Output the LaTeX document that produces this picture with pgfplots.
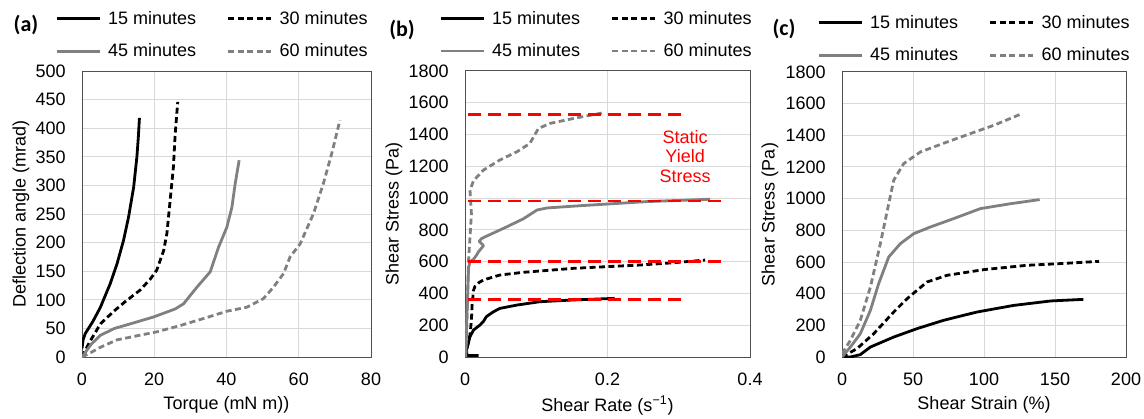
\documentclass[border=0pt]{standalone}
\usepackage{fontspec}
\setmainfont{Liberation Sans}
\newfontfamily\calibri{Carlito}
\usepackage{pgfplots}
\pgfplotsset{compat=1.18}

\definecolor{midgray}{RGB}{128,128,128}
\definecolor{gridgray}{RGB}{217,217,217}
\definecolor{framegray}{RGB}{80,80,80}
\newcommand{\txt}{\fontsize{13.5}{14.6}\selectfont}

\pgfplotsset{
  panel/.style={
    scale only axis,
    axis line style={framegray, line width=0.75pt},
    major tick length=0pt,
    grid=major, grid style={gridgray, line width=0.75pt},
    tick label style={font=\txt},
    /pgf/number format/assume math mode=true,
    /pgf/number format/1000 sep={},
    yticklabel style={inner xsep=0pt, xshift=-12pt},
    xticklabel style={inner ysep=0pt, yshift=-12pt},
    label style={font=\txt},
    legend columns=2,
    legend cell align=left,
    legend image code/.code={\draw[##1] (0pt,0pt) -- (32.25pt,0pt);},
    legend style={draw=none, fill=none, inner sep=0pt, font=\txt,
      row sep=13pt, nodes={inner sep=0pt},
      /tikz/every odd column/.append style={column sep=5.25pt},
      /tikz/every even column/.append style={column sep=23pt}},
  },
  s15/.style={black, line width=2.1pt, line join=round},
  s30/.style={black, line width=2.1pt, line join=round, dash pattern=on 4.5pt off 2.6pt},
  s45/.style={midgray, line width=2.1pt, line join=round},
  s60/.style={midgray, line width=2.1pt, line join=round, dash pattern=on 4.5pt off 2.6pt},
  syield/.style={red, line width=2.2pt, dash pattern=on 9.75pt off 5.25pt},
}

\begin{document}
\begin{tikzpicture}
\useasboundingbox (0,0) rectangle (858pt,313.5pt);

% ---------- (a) torque vs deflection
\begin{axis}[panel,
  at={(61.5pt,45.75pt)}, anchor=south west,
  width=216.75pt, height=214.5pt,
  xmin=0, xmax=80, ymin=0, ymax=500,
  xtick={0,20,...,80}, ytick={0,50,...,500},
  xlabel={Torque (mN m))}, ylabel={Deflection angle (mrad)},
  xlabel style={at={(axis description cs:0.5,-0.168)}, anchor=center},
  ylabel style={at={(axis description cs:-0.211,0.5)}, anchor=center},
  legend style={at={(axis description cs:-0.093,1.21)}, anchor=north west},
]
\addplot[s15] coordinates {(0,15) (0.3,30) (0.9,41) (3,62) (5.1,87) (7.8,128)
  (9.7,163) (11.5,204) (12.9,245) (14.3,297) (15.2,350) (15.6,385) (15.9,418)};
\addlegendentry{15 minutes}
\addplot[s30] coordinates {(0,0) (2,25) (5.1,58) (8.8,80) (12,97) (16.1,117)
  (19,137) (20.7,152) (22.6,186) (23.5,216) (24.4,274) (25.3,332) (25.8,390) (26.5,446)};
\addlegendentry{30 minutes}
\addplot[s45] coordinates {(0,0) (2.5,22) (5.1,38) (9,50) (13.4,58) (19.8,70)
  (25.8,84) (28.1,93) (31.8,122) (35.5,149) (37.8,192) (40.1,227) (41.5,262)
  (42.4,303) (43.5,344)};
\addlegendentry{45 minutes}
\addplot[s60] coordinates {(0,0) (2.5,8) (5.1,17) (9.7,30) (20.7,44) (27.2,55)
  (34,68) (40.1,80) (45.6,87) (50.2,102) (53,122) (55.8,146) (57.6,175)
  (60.4,198) (64.1,251) (66.8,303) (69.1,355) (71.4,414)};
\addlegendentry{60 minutes}
\end{axis}

% ---------- (b) shear rate vs shear stress
\begin{axis}[panel,
  at={(348.75pt,45.75pt)}, anchor=south west,
  width=213.75pt, height=214.5pt,
  xmin=0, xmax=0.4, ymin=0, ymax=1800,
  xtick={0,0.2,0.4}, ytick={0,200,...,1800},
  xlabel={Shear Rate (s\textsuperscript{−1})}, ylabel={Shear Stress (Pa)},
  xlabel style={at={(axis description cs:0.5,-0.168)}, anchor=center},
  ylabel style={at={(axis description cs:-0.249,0.5)}, anchor=center},
  legend style={at={(axis description cs:-0.091,1.21)}, anchor=north west},
]
\addplot[s15] coordinates {(0.019,10) (0.003,10) (0.002,40) (0.007,128) (0.012,170)
  (0.021,201) (0.026,225) (0.030,254) (0.040,285) (0.049,306) (0.073,327)
  (0.105,348) (0.152,359) (0.21,369)};
\addlegendentry{15 minutes}
\addplot[s30] coordinates {(0.001,0) (0.004,80) (0.007,140) (0.009,230) (0.010,330)
  (0.012,420) (0.014,445) (0.02,470) (0.026,485) (0.049,516) (0.082,533)
  (0.152,558) (0.246,579) (0.292,593) (0.337,610)};
\addlegendentry{30 minutes}
\addplot[s45] coordinates {(0.001,0) (0.003,300) (0.005,560) (0.007,600) (0.012,615)
  (0.016,640) (0.019,663) (0.026,700) (0.020,728) (0.023,745) (0.030,760)
  (0.058,818) (0.082,870) (0.101,925) (0.115,938) (0.161,952) (0.255,978) (0.344,993)};
\addlegendentry{45 minutes}
\addplot[s60] coordinates {(0.001,0) (0.003,300) (0.005,610) (0.009,900) (0.007,1050)
  (0.012,1110) (0.026,1177) (0.049,1240) (0.073,1292) (0.091,1344) (0.103,1438)
  (0.119,1470) (0.152,1501) (0.194,1537)};
\addlegendentry{60 minutes}
\addplot[syield, forget plot] coordinates {(0.004,1527) (0.311,1527)};
\addplot[syield, forget plot] coordinates {(0.004,982) (0.362,982)};
\addplot[syield, forget plot] coordinates {(0.004,600) (0.362,600)};
\addplot[syield, forget plot] coordinates {(0.004,359) (0.311,359)};
\node[red, font=\txt, align=center, anchor=center] at (axis cs:0.309,1263)
  {Static\\Yield\\Stress};
\end{axis}

% ---------- (c) shear strain vs shear stress
\begin{axis}[panel,
  at={(631.5pt,45.75pt)}, anchor=south west,
  width=213pt, height=213.75pt,
  xmin=0, xmax=200, ymin=0, ymax=1800,
  xtick={0,50,...,200}, ytick={0,200,...,1800},
  xlabel={Shear Strain (\%)}, ylabel={Shear Stress (Pa)},
  xlabel style={at={(axis description cs:0.5,-0.168)}, anchor=center},
  ylabel style={at={(axis description cs:-0.254,0.5)}, anchor=center},
  legend style={at={(axis description cs:-0.088,1.20)}, anchor=north west},
]
\addplot[s15] coordinates {(0,0) (5.9,0) (12.9,15) (20,63) (36.4,126) (52.8,179)
  (71.6,232) (95,284) (121,326) (147,354) (170,364)};
\addlegendentry{15 minutes}
\addplot[s30] coordinates {(0,0) (10.6,53) (22.3,147) (36.4,284) (45.8,368)
  (52.8,421) (59.9,474) (74,516) (100,552) (130,579) (154,590) (181,604)};
\addlegendentry{30 minutes}
\addplot[s45] coordinates {(0,0) (5.9,63) (12.9,147) (20,295) (25.8,463) (32.9,632)
  (41.1,716) (50.5,779) (62.2,821) (78.6,874) (97.4,937) (118.5,968) (139.2,994)};
\addlegendentry{45 minutes}
\addplot[s60] coordinates {(0,21) (5.9,105) (12.9,232) (20,442) (27,716) (32.9,968)
  (36.4,1116) (43.4,1221) (55.2,1295) (74,1358) (90.4,1411) (106.8,1463) (125.6,1533)};
\addlegendentry{60 minutes}
\end{axis}

% panel letters
\node[font=\calibri\bfseries\fontsize{16.5}{18}\selectfont] at (19.5pt,294.75pt) {(a)};
\node[font=\calibri\bfseries\fontsize{16.5}{18}\selectfont] at (301.5pt,291pt) {(b)};
\node[font=\calibri\bfseries\fontsize{16.5}{18}\selectfont] at (588pt,291.75pt) {(c)};
\end{tikzpicture}
\end{document}
